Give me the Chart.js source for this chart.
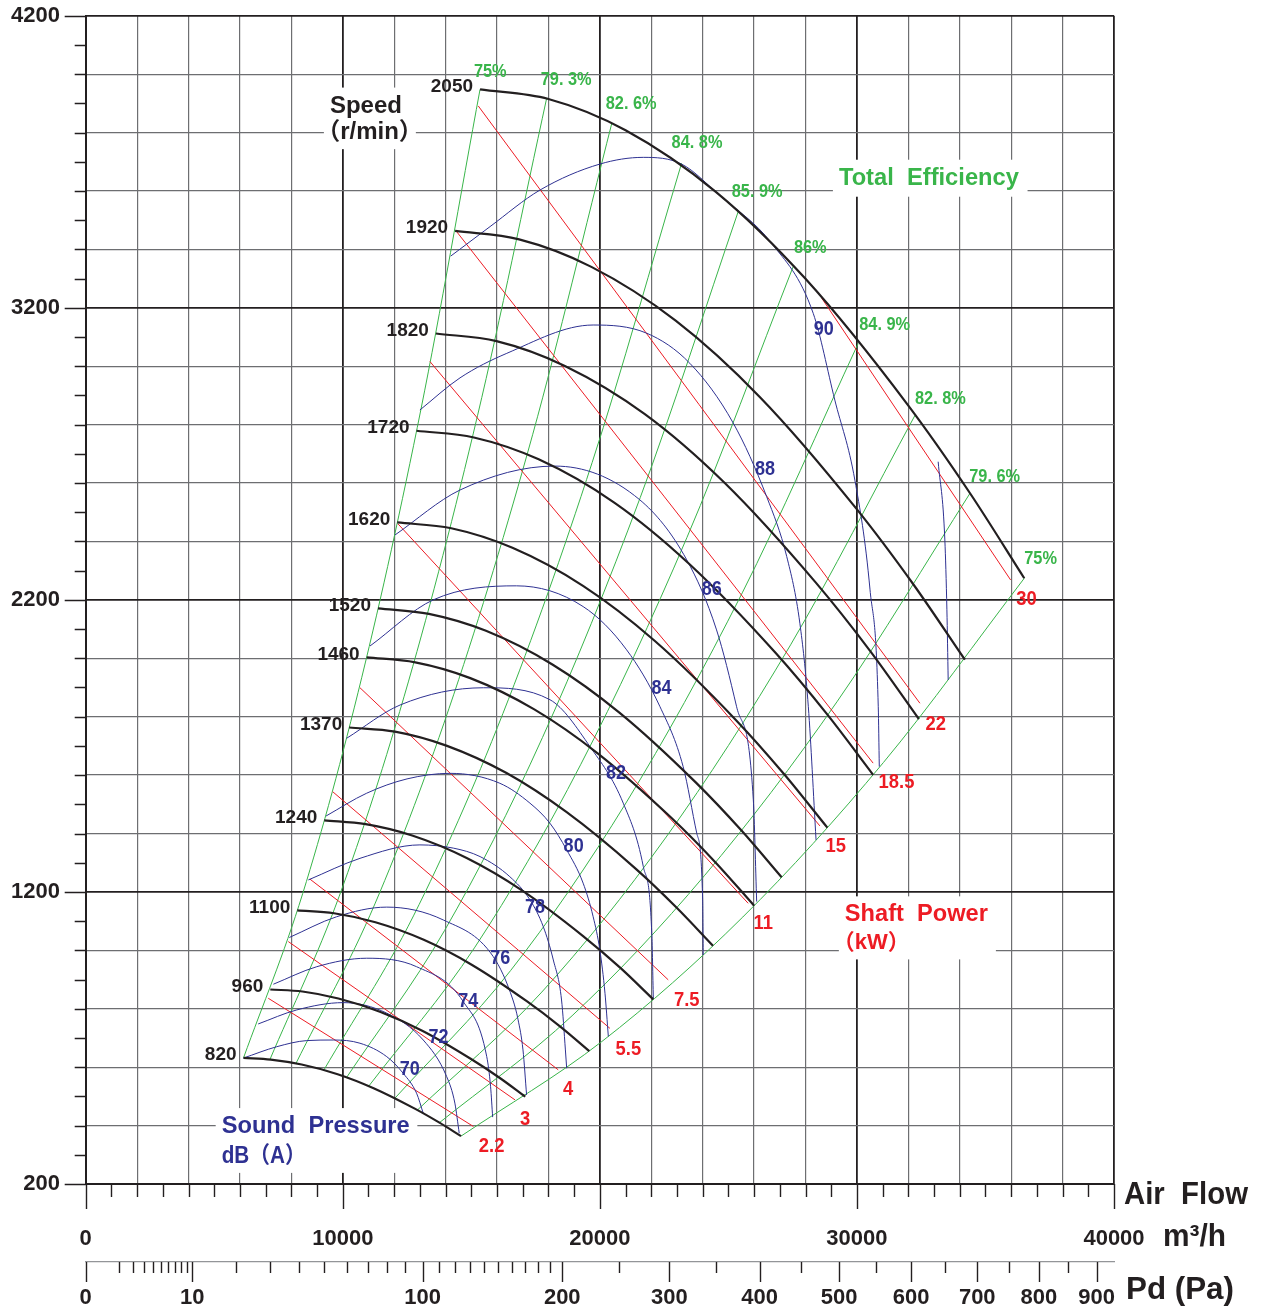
<!DOCTYPE html>
<html>
<head>
<meta charset="utf-8">
<title>Fan performance chart</title>
<script src="https://cdn.jsdelivr.net/npm/chart.js@4.4.1/dist/chart.umd.min.js"></script>
<style>
  html, body { margin: 0; padding: 0; background: #ffffff; }
  #wrap { width: 1267px; height: 1312px; }
</style>
</head>
<body>
<div id="wrap"><canvas id="fan" width="1267" height="1312"></canvas></div>
<script>
// ---- speed curves (r/min): air flow in m3/h, total pressure in Pa ----
const speeds = [2050, 1920, 1820, 1720, 1620, 1520, 1460, 1370, 1240, 1100, 960, 820];
const speedFlow = [
  [15340, 18000, 21000, 24500, 28000, 32000, 34400, 36510],
  [14370, 16860, 19670, 22950, 26230, 29970, 32220, 34200],
  [13620, 15980, 18640, 21750, 24860, 28410, 30540, 32410],
  [12870, 15100, 17620, 20560, 23490, 26850, 28860, 30630],
  [12120, 14220, 16600, 19360, 22130, 25290, 27180, 28850],
  [11370, 13350, 15570, 18170, 20760, 23730, 25510, 27070],
  [10930, 12820, 14960, 17450, 19940, 22790, 24500, 26000],
  [10250, 12030, 14030, 16370, 18710, 21390, 22990, 24400],
  [9280, 10890, 12700, 14820, 16940, 19360, 20810, 22080],
  [8230, 9660, 11270, 13150, 15030, 17170, 18460, 19590],
  [7180, 8430, 9830, 11470, 13110, 14990, 16110, 17100],
  [6140, 7200, 8400, 9800, 11200, 12800, 13760, 14600]
];
const speedPres = [
  [3948, 3915, 3808, 3598, 3299, 2865, 2565, 2274],
  [3463, 3434, 3340, 3156, 2894, 2513, 2250, 1995],
  [3112, 3086, 3001, 2836, 2600, 2258, 2022, 1792],
  [2779, 2756, 2681, 2533, 2322, 2017, 1806, 1601],
  [2465, 2445, 2378, 2247, 2060, 1789, 1602, 1420],
  [2171, 2152, 2094, 1978, 1814, 1575, 1410, 1250],
  [2003, 1986, 1932, 1825, 1673, 1453, 1301, 1153],
  [1763, 1749, 1701, 1607, 1473, 1280, 1146, 1016],
  [1445, 1432, 1393, 1316, 1207, 1048, 939, 832],
  [1137, 1127, 1096, 1036, 950, 825, 739, 655],
  [866, 859, 835, 789, 724, 628, 563, 499],
  [632, 626, 609, 576, 528, 458, 410, 364]
];

// ---- total efficiency lines (green) ----
const effNames = ['75%', '79. 3%', '82. 6%', '84. 8%', '85. 9%', '86%', '84. 9%', '82. 8%', '79. 6%', '75%'];
const effFlow = [
  [6140, 8440, 10740, 13040, 15340],
  [7170, 9860, 12550, 15240, 17930],
  [8180, 11250, 14320, 17390, 20460],
  [9270, 12750, 16230, 19700, 23180],
  [10150, 13960, 17770, 21570, 25380],
  [11010, 15140, 19260, 23390, 27520],
  [12020, 16530, 21040, 25540, 30050],
  [12900, 17740, 22580, 27420, 32260],
  [13760, 18920, 24080, 29240, 34400],
  [14600, 20080, 25560, 31030, 36510]
];
const effPres = [
  [632, 1194, 1935, 2852, 3948],
  [627, 1185, 1919, 2830, 3917],
  [613, 1159, 1877, 2767, 3830],
  [591, 1118, 1811, 2670, 3695],
  [565, 1068, 1729, 2550, 3529],
  [535, 1011, 1637, 2414, 3341],
  [493, 931, 1508, 2224, 3078],
  [453, 857, 1388, 2046, 2832],
  [410, 776, 1257, 1853, 2565],
  [364, 688, 1114, 1643, 2274]
];
const effTagFlow = [15100, 17700, 20230, 22790, 25130, 27550, 30090, 32260, 34370, 36510];
const effTagPres = [4008, 3980, 3898, 3765, 3597, 3404, 3141, 2890, 2622, 2339];

// ---- shaft power lines (red), kW ----
const powerNames = ['2.2', '3', '4', '5.5', '7.5', '11', '15', '18.5', '22', '30'];
const powerFlow = [
  [7100, 15080], [7880, 16700], [8720, 18380], [9610, 20390], [10670, 22660],
  [12150, 25770], [13390, 28560], [14400, 30630], [15270, 32450], [28630, 35980]
];
const powerPres = [
  [836, 397], [1030, 488], [1244, 591], [1543, 733], [1899, 899],
  [2460, 1161], [3016, 1426], [3464, 1641], [3891, 1846], [3233, 2268]
];
const powerTagFlow = [15790, 17090, 18770, 21110, 23380, 26360, 29180, 31540, 33070, 36600];
const powerTagPres = [328, 420, 522, 659, 830, 1093, 1357, 1574, 1772, 2200];

// ---- sound pressure curves (blue), dB(A); the last one is an unlabelled tail ----
const soundNames = ['70', '72', '74', '76', '78', '80', '82', '84', '86', '88', '90'];
const soundFlow = [
  [6130, 7430, 8600, 9630, 10670, 11710, 12350, 12870, 13130],
  [6710, 8210, 10020, 11710, 13130, 14040, 14360, 14530],
  [7300, 8990, 10930, 12870, 14690, 15600, 15750, 15830],
  [7920, 9760, 11710, 13910, 15850, 16620, 16820, 17010, 17150],
  [8660, 10670, 13000, 14300, 15340, 16500, 17280, 17800, 18190, 18510, 18660, 18710],
  [9350, 10930, 12500, 14170, 16110, 17280, 18060, 18710, 19350, 19740, 20000, 20200, 20330],
  [10150, 12230, 15470, 18060, 19620, 20910, 21690, 22020, 22080],
  [11060, 13520, 16760, 19350, 21040, 22340, 23240, 23770, 24000, 24020],
  [12030, 14560, 18250, 21560, 23380, 24540, 25320, 25970, 26100],
  [13000, 14560, 16380, 19740, 21820, 23500, 25190, 26490, 27270, 27780, 28110, 28410],
  [14200, 15730, 17670, 20000, 21690, 23180, 24680, 26680, 28300, 29140, 29920, 30510, 30830, 30870],
  [33160, 33420, 33500, 33550]
];
const soundPres = [
  [631, 670, 691, 693, 682, 636, 579, 511, 442],
  [748, 796, 821, 785, 693, 568, 477, 374],
  [884, 944, 973, 944, 824, 636, 533, 429],
  [1044, 1115, 1148, 1104, 979, 830, 762, 659, 505],
  [1241, 1315, 1361, 1350, 1321, 1252, 1173, 1081, 967, 830, 659, 596],
  [1460, 1538, 1587, 1606, 1572, 1504, 1435, 1344, 1230, 1115, 1001, 853, 705],
  [1726, 1840, 1899, 1858, 1697, 1504, 1287, 1059, 836],
  [2042, 2200, 2248, 2177, 2029, 1834, 1629, 1401, 1173, 984],
  [2422, 2576, 2658, 2542, 2337, 2097, 1834, 1515, 1167],
  [2850, 2960, 3044, 3141, 3113, 3010, 2805, 2553, 2348, 2120, 1834, 1378],
  [3377, 3478, 3603, 3692, 3715, 3692, 3583, 3421, 3181, 2884, 2610, 2234, 1834, 1629],
  [2673, 2405, 2166, 1926]
];
const soundTagFlow = [12610, 13720, 14880, 16130, 17480, 18980, 20630, 22400, 24350, 26420, 28710];
const soundTagPres = [593, 703, 824, 973, 1148, 1357, 1604, 1897, 2236, 2645, 3124];

// ---- axes ----
const flowLabels = [0, 10000, 20000, 30000, 40000];
const presLabels = [200, 1200, 2200, 3200, 4200];
const pdTicks = [0, 1, 2, 3, 4, 5, 6, 7, 8, 9, 10, 20, 30, 40, 50, 60, 70, 80, 90, 100,
  110, 120, 130, 140, 150, 160, 170, 180, 190, 200, 250, 300, 350, 400, 450, 500,
  550, 600, 650, 700, 750, 800, 850, 900];
const pdLabels = [0, 10, 100, 200, 300, 400, 500, 600, 700, 800, 900];
const pdPerFlow2 = 0.582; // Pa per (1000 m3/h)^2

const FONT = "'Liberation Sans', Arial, 'Noto Sans CJK SC', sans-serif";
const INK = '#231f20', GREEN = '#39b54a', RED = '#ed1c24', BLUE = '#2e3192';
const GRID = '#6d6e71', CLEAR = 'rgba(0,0,0,0)';

function pts(xs, ys) { return xs.map((q, i) => ({ x: q, y: ys[i] })); }

const datasets = [];
speeds.forEach((n, i) => datasets.push({
  label: n + ' r/min', data: pts(speedFlow[i], speedPres[i]),
  borderColor: INK, borderWidth: 2.2, order: 0
}));
soundFlow.forEach((f, i) => datasets.push({
  label: (soundNames[i] || '') + ' dB(A)', data: pts(f, soundPres[i]),
  borderColor: BLUE, borderWidth: 1, order: 1
}));
powerNames.forEach((k, i) => datasets.push({
  label: k + ' kW', data: pts(powerFlow[i], powerPres[i]),
  borderColor: RED, borderWidth: 1, order: 2
}));
effNames.forEach((e, i) => datasets.push({
  label: e, data: pts(effFlow[i], effPres[i]),
  borderColor: GREEN, borderWidth: 1, order: 3
}));
datasets.forEach(d => { d.showLine = true; d.pointRadius = 0; d.cubicInterpolationMode = 'monotone'; d.fill = false; });

function put(ctx, text, x, y, size, color, align, sx) {
  ctx.save();
  ctx.font = 'bold ' + size + 'px ' + FONT;
  ctx.fillStyle = color;
  ctx.textAlign = align || 'left';
  ctx.textBaseline = 'middle';
  ctx.translate(x, y);
  ctx.scale(sx || 1, 1);
  ctx.fillText(text, 0, 0);
  ctx.restore();
}
function inkBox(ctx, text, x, y, size, align, sx) {
  ctx.save();
  ctx.font = 'bold ' + size + 'px ' + FONT;
  ctx.textAlign = align || 'left';
  ctx.textBaseline = 'middle';
  const m = ctx.measureText(text);
  ctx.restore();
  const s = sx || 1;
  return { l: x - m.actualBoundingBoxLeft * s, r: x + m.actualBoundingBoxRight * s,
           t: y - m.actualBoundingBoxAscent, b: y + m.actualBoundingBoxDescent };
}
function fitScale(ctx, text, size, w) {
  ctx.save();
  ctx.font = 'bold ' + size + 'px ' + FONT;
  const s = w / ctx.measureText(text).width;
  ctx.restore();
  return s;
}

// block titles sitting on white panels
const blocks = [
  { color: INK, lines: [
    { text: 'Speed', q: 10900, p: 3891, size: 24, align: 'center' },
    { text: '（r/min）', q: 11040, p: 3800, size: 24, align: 'center' }] },
  { color: GREEN, lines: [
    { text: 'Total  Efficiency', q: 32800, p: 3644, size: 24, align: 'center', w: 180 }] },
  { color: RED, lines: [
    { text: 'Shaft  Power', q: 29530, p: 1121, size: 23, align: 'left', w: 143 },
    { text: '（kW）', q: 30560, p: 1024, size: 22, align: 'center' }] },
  { color: BLUE, lines: [
    { text: 'Sound  Pressure', q: 5290, p: 397, size: 24, align: 'left', w: 188 },
    { text: 'dB（A）', q: 5290, p: 294, size: 23, align: 'left', sx: 0.9 }] }
];

const decor = {
  id: 'decor',
  beforeDatasetsDraw(chart) {
    const { ctx, scales: { x, y }, chartArea } = chart;
    ctx.save();
    ctx.fillStyle = '#ffffff';
    blocks.forEach(b => {
      let l = 1e9, r = -1e9, t = 1e9, bt = -1e9;
      b.lines.forEach(ln => {
        const sx = ln.w ? fitScale(ctx, ln.text, ln.size, ln.w) : (ln.sx || 1);
        const box = inkBox(ctx, ln.text, x.getPixelForValue(ln.q), y.getPixelForValue(ln.p), ln.size, ln.align, sx);
        l = Math.min(l, box.l); r = Math.max(r, box.r); t = Math.min(t, box.t); bt = Math.max(bt, box.b);
      });
      l -= 6; r += 8; t -= 7; bt += 7;
      bt = Math.min(bt, chartArea.bottom - 1.5);
      ctx.fillRect(l, t, r - l, bt - t);
    });
    ctx.restore();
  },
  afterDatasetsDraw(chart) {
    const { ctx, scales: { x, y, pd } } = chart;

    // tick marks
    ctx.save();
    ctx.strokeStyle = INK;
    ctx.lineWidth = 1.4;
    ctx.beginPath();
    y.ticks.forEach(t => {
      const py = Math.round(y.getPixelForValue(t.value)) + 0.5;
      const len = presLabels.includes(t.value) ? 21 : 11;
      ctx.moveTo(y.right - len, py); ctx.lineTo(y.right, py);
    });
    x.ticks.forEach(t => {
      const px = Math.round(x.getPixelForValue(t.value)) + 0.5;
      const len = flowLabels.includes(t.value) ? 25 : 13;
      ctx.moveTo(px, x.top); ctx.lineTo(px, x.top + len);
    });
    pd.ticks.forEach((t, i) => {
      const px = Math.round(pd.getPixelForValue(t.value)) + 0.5;
      const len = pdLabels.includes(pdTicks[i]) ? 20 : 11;
      ctx.moveTo(px, pd.top); ctx.lineTo(px, pd.top + len);
    });
    ctx.stroke();
    ctx.restore();

    // speed labels next to the start of each curve
    speeds.forEach((n, i) => {
      const p0 = chart.getDatasetMeta(i).data[0];
      put(ctx, String(n), p0.x - 7, p0.y - 3, 19, INK, 'right');
    });
    effNames.forEach((e, i) => put(ctx, e, x.getPixelForValue(effTagFlow[i]), y.getPixelForValue(effTagPres[i]), 19, GREEN, 'left', 0.86));
    soundNames.forEach((s, i) => put(ctx, s, x.getPixelForValue(soundTagFlow[i]), y.getPixelForValue(soundTagPres[i]), 20, BLUE, 'center', 0.9));
    powerNames.forEach((k, i) => put(ctx, k, x.getPixelForValue(powerTagFlow[i]), y.getPixelForValue(powerTagPres[i]), 20, RED, 'center', 0.92));

    blocks.forEach(b => b.lines.forEach(ln => {
      const sx = ln.w ? fitScale(ctx, ln.text, ln.size, ln.w) : (ln.sx || 1);
      put(ctx, ln.text, x.getPixelForValue(ln.q), y.getPixelForValue(ln.p), ln.size, b.color, ln.align, sx);
    }));

    // axis titles at the right of the axes
    put(ctx, 'Air  Flow', x.right + 10, x.top + 11, 31, INK, 'left', fitScale(ctx, 'Air  Flow', 31, 124));
    put(ctx, 'm³/h', x.right + 49, x.top + 53, 31, INK, 'left', fitScale(ctx, 'm³/h', 31, 63));
    put(ctx, 'Pd (Pa)', pd.right + 12, pd.top + 28, 31, INK, 'left', fitScale(ctx, 'Pd (Pa)', 31, 108));
  }
};

new Chart(document.getElementById('fan'), {
  type: 'scatter',
  data: { datasets: datasets },
  plugins: [decor],
  options: {
    responsive: false,
    animation: false,
    devicePixelRatio: 1,
    events: [],
    layout: { padding: { left: 0, top: 15.7, right: 153, bottom: 0 } },
    plugins: { legend: { display: false }, tooltip: { enabled: false } },
    scales: {
      x: {
        type: 'linear', position: 'bottom', min: 0, max: 40000, weight: 0,
        afterBuildTicks: s => { s.ticks = []; for (let v = 0; v <= 40000; v += 1000) s.ticks.push({ value: v }); },
        afterFit: s => { s.height = 78; },
        grid: {
          drawTicks: false,
          color: c => (c.tick.value % 2000 ? CLEAR : (c.tick.value % 10000 === 0 ? INK : GRID)),
          lineWidth: c => (c.tick.value % 10000 === 0 ? 1.8 : 1.2)
        },
        border: { display: true, color: INK, width: 2 },
        ticks: {
          autoSkip: false, maxRotation: 0, padding: 41.4, color: INK,
          font: { family: FONT, size: 22, weight: 'bold' },
          callback: v => (flowLabels.includes(v) ? String(v) : '')
        }
      },
      pd: {
        type: 'linear', position: 'bottom', min: 0, max: 40000, weight: 1,
        afterBuildTicks: s => { s.ticks = pdTicks.map(p => ({ value: 1000 * Math.sqrt(p / pdPerFlow2) })); },
        afterFit: s => { s.height = 50; },
        grid: { display: false, drawTicks: false },
        border: { display: true, color: '#939598', width: 1.2 },
        ticks: {
          autoSkip: false, maxRotation: 0, padding: 22.4, color: INK,
          font: { family: FONT, size: 22, weight: 'bold' },
          callback: (v, i) => (pdLabels.includes(pdTicks[i]) ? String(pdTicks[i]) : '')
        }
      },
      y: {
        type: 'linear', position: 'left', min: 200, max: 4200,
        afterBuildTicks: s => { s.ticks = []; for (let v = 200; v <= 4200; v += 100) s.ticks.push({ value: v }); },
        afterFit: s => { s.width = 85.7; },
        grid: {
          drawTicks: true, tickLength: 25.7, tickColor: CLEAR,
          color: c => (c.tick.value % 200 ? CLEAR : ((c.tick.value - 200) % 1000 === 0 ? INK : GRID)),
          lineWidth: c => ((c.tick.value - 200) % 1000 === 0 ? 1.8 : 1.2)
        },
        border: { display: true, color: INK, width: 2 },
        ticks: {
          autoSkip: false, padding: 0, color: INK,
          font: { family: FONT, size: 22, weight: 'bold' },
          callback: v => (presLabels.includes(v) ? String(v) : '')
        }
      }
    }
  }
});
</script>
</body>
</html>
